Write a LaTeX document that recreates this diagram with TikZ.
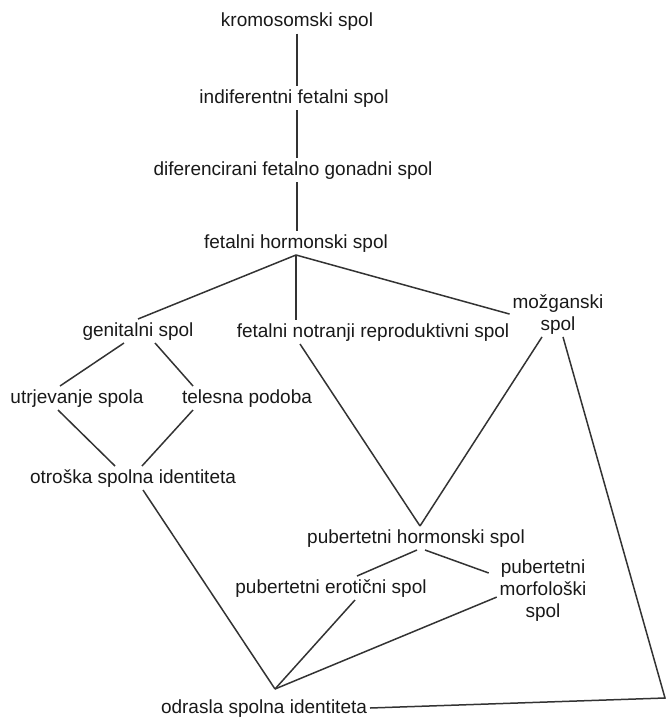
\documentclass[tikz,border=0pt]{standalone}
\usepackage{fontspec}
\setmainfont{Liberation Sans}
\usetikzlibrary{calc}
\begin{document}
\begin{tikzpicture}[x=1pt,y=-1pt,
  lbl/.style={inner sep=0pt, outer sep=3pt, text height=14pt, text depth=4pt, anchor=base, font=\fontsize{19}{22}\selectfont, text=black!90},
  mlbl/.style={inner sep=0pt, outer sep=3pt, align=center, anchor=base, font=\fontsize{19}{22}\selectfont, text=black!90},
  conn/.style={draw=black!80, line width=1.5pt}]
\useasboundingbox (0,0) rectangle (668,717);
\node[lbl] (krom) at (297,26.7) {kromosomski spol};
\node[lbl] (indif) at (294,103) {indiferentni fetalni spol};
\node[lbl] (difer) at (293,175) {diferencirani fetalno gonadni spol};
\node[lbl] (fhs) at (296,248) {fetalni hormonski spol};
\node[lbl] (gen) at (138,336) {genitalni spol};
\node[lbl] (fnr) at (373,337) {fetalni notranji reproduktivni spol};
\node[mlbl] (moz) at (558,330) {možganski\\spol};
\node[lbl] (utr) at (77,403) {utrjevanje spola};
\node[lbl] (tel) at (247,403) {telesna podoba};
\node[lbl] (otr) at (133,483) {otroška spolna identiteta};
\node[lbl] (ph) at (416,543) {pubertetni hormonski spol};
\node[lbl] (ero) at (331,593) {pubertetni erotični spol};
\node[mlbl] (morf) at (543,617) {pubertetni\\morfološki\\spol};
\node[lbl] (odr) at (264,713) {odrasla spolna identiteta};
\coordinate (corner) at (665,698);
\coordinate (odrtop) at ([xshift=11pt,yshift=7pt]odr.north);
\coordinate (phtop) at ([xshift=4pt]ph.north);
\draw[conn] (krom.south) -- (krom.south |- indif.north);
\draw[conn] (krom.south |- indif.south) -- (krom.south |- difer.north);
\draw[conn] (krom.south |- difer.south) -- (krom.south |- fhs.north);
\draw[conn] (fhs.south) -- (gen.north);
\draw[conn] (fhs.south) -- (fhs.south |- fnr.north);
\draw[conn] (fhs.south) -- (moz.west);
\draw[conn] ([xshift=-14pt]gen.south) -- ([xshift=-17pt]utr.north);
\draw[conn] ([xshift=17pt]gen.south) -- ([xshift=-54pt]tel.north);
\draw[conn] ([xshift=-19pt]utr.south) -- ([xshift=-18pt]otr.north);
\draw[conn] ([xshift=-54pt]tel.south) -- ([xshift=9pt]otr.north);
\draw[conn] ([xshift=10pt]otr.south) -- (odrtop);
\draw[conn] ([xshift=-73pt]fnr.south) -- (phtop);
\draw[conn] ([xshift=-16pt]moz.south) -- (phtop);
\draw[conn] ([xshift=5pt]moz.south) -- (corner) -- (odr.east);
\draw[conn] ([xshift=1pt]ph.south) -- ([xshift=26pt]ero.north);
\draw[conn] ([xshift=9pt]ph.south) -- ([xshift=-8pt,yshift=44pt]morf.base west);
\draw[conn] ([xshift=24pt]ero.south) -- (odrtop);
\draw[conn] ([yshift=-7pt]morf.west) -- (odrtop);
\end{tikzpicture}
\end{document}
